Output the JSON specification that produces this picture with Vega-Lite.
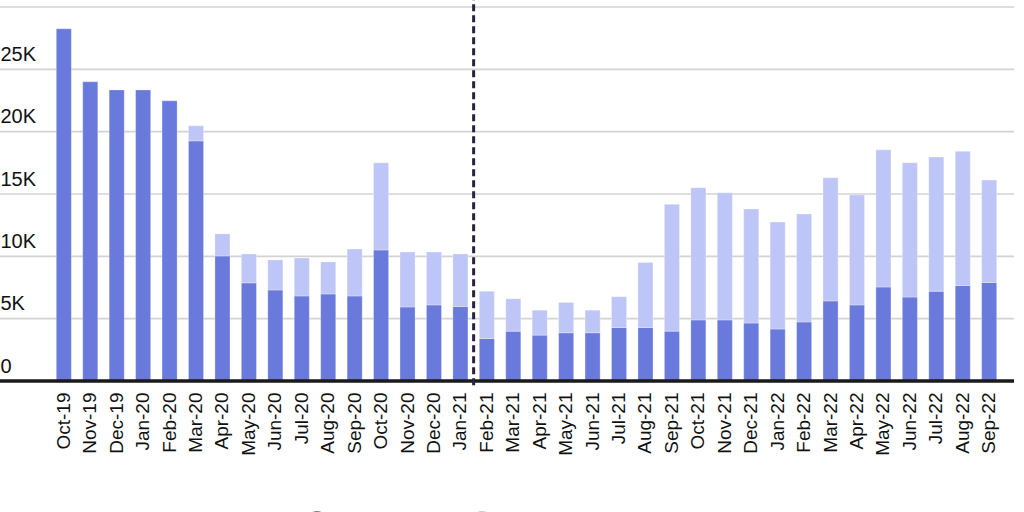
{
  "$schema": "https://vega.github.io/schema/vega-lite/v6.json",
  "width": 1014,
  "height": 374,
  "autosize": {"type": "none"},
  "padding": {"left": 0, "top": 7, "right": 10, "bottom": 131},
  "background": "white",
  "datasets": {
    "bars": [
      {"month": "Oct-19", "segment": "Existing", "count": 28250},
      {"month": "Nov-19", "segment": "Existing", "count": 24000},
      {"month": "Dec-19", "segment": "Existing", "count": 23350},
      {"month": "Jan-20", "segment": "Existing", "count": 23350},
      {"month": "Feb-20", "segment": "Existing", "count": 22470},
      {"month": "Mar-20", "segment": "Existing", "count": 19260},
      {"month": "Mar-20", "segment": "New", "count": 1210},
      {"month": "Apr-20", "segment": "Existing", "count": 10030},
      {"month": "Apr-20", "segment": "New", "count": 1770},
      {"month": "May-20", "segment": "Existing", "count": 7870},
      {"month": "May-20", "segment": "New", "count": 2320},
      {"month": "Jun-20", "segment": "Existing", "count": 7300},
      {"month": "Jun-20", "segment": "New", "count": 2410},
      {"month": "Jul-20", "segment": "Existing", "count": 6820},
      {"month": "Jul-20", "segment": "New", "count": 3050},
      {"month": "Aug-20", "segment": "Existing", "count": 6980},
      {"month": "Aug-20", "segment": "New", "count": 2570},
      {"month": "Sep-20", "segment": "Existing", "count": 6820},
      {"month": "Sep-20", "segment": "New", "count": 3770},
      {"month": "Oct-20", "segment": "Existing", "count": 10510},
      {"month": "Oct-20", "segment": "New", "count": 6990},
      {"month": "Nov-20", "segment": "Existing", "count": 5940},
      {"month": "Nov-20", "segment": "New", "count": 4410},
      {"month": "Dec-20", "segment": "Existing", "count": 6100},
      {"month": "Dec-20", "segment": "New", "count": 4250},
      {"month": "Jan-21", "segment": "Existing", "count": 5970},
      {"month": "Jan-21", "segment": "New", "count": 4220},
      {"month": "Feb-21", "segment": "Existing", "count": 3410},
      {"month": "Feb-21", "segment": "New", "count": 3790},
      {"month": "Mar-21", "segment": "Existing", "count": 4000},
      {"month": "Mar-21", "segment": "New", "count": 2600},
      {"month": "Apr-21", "segment": "Existing", "count": 3680},
      {"month": "Apr-21", "segment": "New", "count": 2000},
      {"month": "May-21", "segment": "Existing", "count": 3870},
      {"month": "May-21", "segment": "New", "count": 2430},
      {"month": "Jun-21", "segment": "Existing", "count": 3870},
      {"month": "Jun-21", "segment": "New", "count": 1810},
      {"month": "Jul-21", "segment": "Existing", "count": 4290},
      {"month": "Jul-21", "segment": "New", "count": 2470},
      {"month": "Aug-21", "segment": "Existing", "count": 4290},
      {"month": "Aug-21", "segment": "New", "count": 5210},
      {"month": "Sep-21", "segment": "Existing", "count": 4000},
      {"month": "Sep-21", "segment": "New", "count": 10170},
      {"month": "Oct-21", "segment": "Existing", "count": 4900},
      {"month": "Oct-21", "segment": "New", "count": 10600},
      {"month": "Nov-21", "segment": "Existing", "count": 4900},
      {"month": "Nov-21", "segment": "New", "count": 10200},
      {"month": "Dec-21", "segment": "Existing", "count": 4650},
      {"month": "Dec-21", "segment": "New", "count": 9150},
      {"month": "Jan-22", "segment": "Existing", "count": 4170},
      {"month": "Jan-22", "segment": "New", "count": 8590},
      {"month": "Feb-22", "segment": "Existing", "count": 4740},
      {"month": "Feb-22", "segment": "New", "count": 8660},
      {"month": "Mar-22", "segment": "Existing", "count": 6420},
      {"month": "Mar-22", "segment": "New", "count": 9880},
      {"month": "Apr-22", "segment": "Existing", "count": 6100},
      {"month": "Apr-22", "segment": "New", "count": 8830},
      {"month": "May-22", "segment": "Existing", "count": 7540},
      {"month": "May-22", "segment": "New", "count": 11000},
      {"month": "Jun-22", "segment": "Existing", "count": 6730},
      {"month": "Jun-22", "segment": "New", "count": 10780},
      {"month": "Jul-22", "segment": "Existing", "count": 7200},
      {"month": "Jul-22", "segment": "New", "count": 10760},
      {"month": "Aug-22", "segment": "Existing", "count": 7660},
      {"month": "Aug-22", "segment": "New", "count": 10760},
      {"month": "Sep-22", "segment": "Existing", "count": 7900},
      {"month": "Sep-22", "segment": "New", "count": 8220}
    ],
    "marker": [
      {"month": "Jan-21", "low": -350, "high": 31000}
    ],
    "gridlines": [
      {"level": 5000},
      {"level": 10000},
      {"level": 15000},
      {"level": 20000},
      {"level": 25000},
      {"level": 30000}
    ],
    "baseline": [
      {"level": 0}
    ]
  },
  "layer": [
    {
      "data": {"name": "gridlines"},
      "mark": {"type": "rule", "strokeWidth": 1.6, "color": "#d3d3d3"},
      "encoding": {
        "y": {"field": "level", "type": "quantitative"}
      }
    },
    {
      "data": {"name": "bars"},
      "mark": {"type": "bar", "stroke": "#ffffff", "strokeWidth": 0.6, "strokeOpacity": 0.5},
      "encoding": {
        "x": {
          "field": "month",
          "type": "nominal",
          "title": null,
          "scale": {
            "domain": ["Oct-19", "Nov-19", "Dec-19", "Jan-20", "Feb-20", "Mar-20", "Apr-20", "May-20", "Jun-20", "Jul-20", "Aug-20", "Sep-20", "Oct-20", "Nov-20", "Dec-20", "Jan-21", "Feb-21", "Mar-21", "Apr-21", "May-21", "Jun-21", "Jul-21", "Aug-21", "Sep-21", "Oct-21", "Nov-21", "Dec-21", "Jan-22", "Feb-22", "Mar-22", "Apr-22", "May-22", "Jun-22", "Jul-22", "Aug-22", "Sep-22"],
            "range": [51, 1002],
            "paddingInner": 0.43,
            "paddingOuter": 0.2
          },
          "axis": {
            "grid": false,
            "domain": false,
            "labelAngle": -90,
            "labelAlign": "right",
            "labelBaseline": "middle",
            "labelFontSize": 19,
            "labelColor": "#111111",
            "labelPadding": 11,
            "ticks": false,
            "labelFont": "Liberation Sans"
          }
        },
        "y": {
          "field": "count",
          "type": "quantitative",
          "aggregate": "sum",
          "stack": "zero",
          "title": null,
          "scale": {"domain": [0, 30000]},
          "axis": {
            "values": [0, 5000, 10000, 15000, 20000, 25000, 30000],
            "labelExpr": "datum.value == 0 ? '0' : (datum.value / 1000) + 'K'",
            "grid": false,
            "domain": false,
            "ticks": false,
            "tickSize": 0,
            "labelAlign": "left",
            "labelBaseline": "alphabetic",
            "labelPadding": 0,
            "labelOffset": -9,
            "labelFontSize": 20,
            "labelColor": "#111111",
            "labelFont": "Liberation Sans"
          }
        },
        "color": {
          "field": "segment",
          "type": "nominal",
          "scale": {"domain": ["Existing", "New"], "range": ["#6979DC", "#BEC6F7"]},
          "legend": {
            "title": null,
            "orient": "none",
            "legendX": 306,
            "legendY": 502,
            "direction": "horizontal",
            "symbolType": "circle",
            "symbolSize": 420,
            "labelFontSize": 15,
            "columnPadding": 83
          }
        },
        "order": {"field": "segment", "sort": "ascending"}
      }
    },
    {
      "data": {"name": "baseline"},
      "mark": {"type": "rule", "strokeWidth": 3.5, "color": "#1a1a1a"},
      "encoding": {
        "y": {"field": "level", "type": "quantitative"}
      }
    },
    {
      "data": {"name": "marker"},
      "mark": {"type": "rule", "strokeDash": [7, 4], "strokeWidth": 3, "color": "#25233d"},
      "encoding": {
        "x": {"field": "month", "type": "nominal", "bandPosition": 1.378},
        "y": {"field": "low", "type": "quantitative"},
        "y2": {"field": "high"}
      }
    }
  ],
  "config": {
    "view": {"stroke": null},
    "font": "Liberation Sans"
  }
}
